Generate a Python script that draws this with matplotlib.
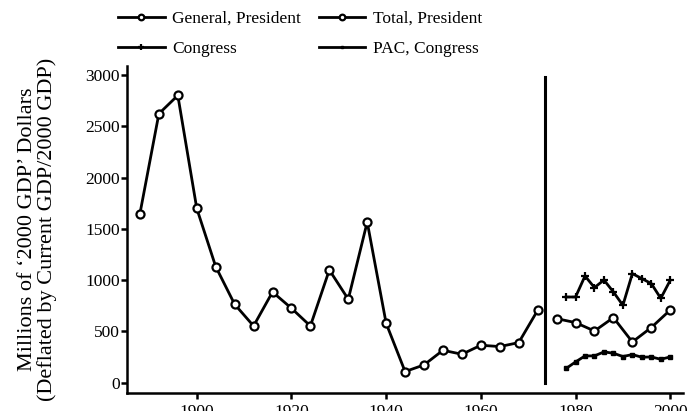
import matplotlib.pyplot as plt

plt.rcParams['font.family'] = ['Liberation Serif', 'DejaVu Serif']

# General election spending, presidential, 1888-1972
gen_years = [1888, 1892, 1896, 1900, 1904, 1908, 1912, 1916, 1920, 1924, 1928,
             1932, 1936, 1940, 1944, 1948, 1952, 1956, 1960, 1964, 1968, 1972]
gen_vals = [1649, 2624, 2803, 1700, 1132, 764, 552, 884, 725, 552, 1099,
            813, 1567, 578, 107, 172, 315, 276, 364, 351, 390, 705]

# Total presidential, 1976-2000
tot_years = [1976, 1980, 1984, 1988, 1992, 1996, 2000]
tot_vals = [624, 585, 503, 634, 396, 537, 708]

# Congress and PAC contributions, 1978-2000
cong_years = [1978, 1980, 1982, 1984, 1986, 1988, 1990, 1992, 1994, 1996, 1998, 2000]
cong_vals = [835, 835, 1040, 927, 1001, 884, 754, 1063, 1015, 966, 822, 998]
pac_vals = [137, 201, 260, 260, 299, 286, 254, 273, 247, 250, 227, 250]

xticks = [1900, 1920, 1940, 1960, 1980, 2000]
yticks = [0, 500, 1000, 1500, 2000, 2500, 3000]
break_year = 1973.6

fig = plt.figure(figsize=(6.93, 4.11), dpi=100)
ax = fig.add_axes([0.1828, 0.0431, 0.8028, 0.7963])

lw = 2.0
circ = dict(marker='o', markersize=5.8, markerfacecolor='white',
            markeredgecolor='black', markeredgewidth=1.6)
l1, = ax.plot(gen_years, gen_vals, color='black', lw=lw, label='General, President', **circ)
l2, = ax.plot(tot_years, tot_vals, color='black', lw=lw, label='Total, President', **circ)
l3, = ax.plot(cong_years, cong_vals, color='black', lw=lw, marker='+', markersize=6,
              markeredgewidth=1.6, label='Congress')
l4, = ax.plot(cong_years, pac_vals, color='black', lw=lw, marker='s', markersize=3,
              label='PAC, Congress')

ax.plot([break_year, break_year], [0, 2985], color='black', lw=2.2)

ax.set_xlim(1885.2, 2002.7)
ax.set_ylim(-105, 3090)
ax.set_xticks(xticks)
ax.set_yticks(yticks)
ax.tick_params(direction='out', length=4, width=1.8, labelsize=12.5, pad=1)
ax.tick_params(axis='x', pad=4)
for s in ['top', 'right']:
    ax.spines[s].set_visible(False)
for s in ['left', 'bottom']:
    ax.spines[s].set_linewidth(1.8)

ax.set_ylabel("Millions of \u20182000 GDP\u2019 Dollars\n(Deflated by Current GDP/2000 GDP)",
              fontsize=16, labelpad=20, linespacing=1.05)

# matplotlib fills legend columns first, so order handles to read row by row
fig.legend([l1, l3, l2, l4], [l1.get_label(), l3.get_label(), l2.get_label(), l4.get_label()],
           loc='center', bbox_to_anchor=(0.433, 0.918), ncol=2,
           frameon=False, fontsize=12.5, handlelength=2.7, markerscale=0.7,
           columnspacing=1.0, labelspacing=0.8, handletextpad=0.45)

fig.savefig('out.png', dpi=100)
